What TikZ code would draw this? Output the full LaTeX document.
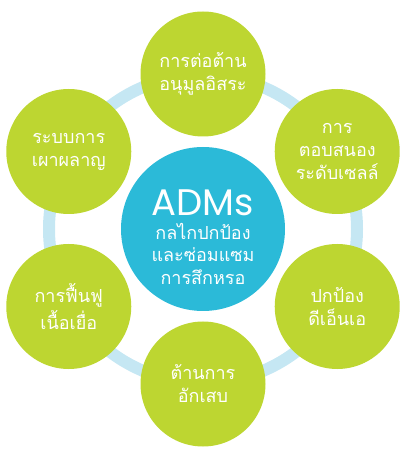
\documentclass[tikz,border=0pt]{standalone}
\usepackage{fontspec}
\newfontfamily\thaifont[Script=Thai]{Loma}
\newfontfamily\admfont{Poppins}
\definecolor{leafgreen}{HTML}{BDD631}
\definecolor{coreblue}{HTML}{2BBAD8}
\definecolor{ringblue}{HTML}{C5E7F3}
\tikzset{
  petal/.style={circle, fill=leafgreen, minimum size=125pt, inner sep=0pt,
    text=white, align=center, font=\thaifont\fontsize{18}{23}\selectfont},
  core/.style={circle, fill=coreblue, minimum size=164pt, inner sep=0pt},
  coretext/.style={text=white, align=center, font=\thaifont\fontsize{18}{22.5}\selectfont},
  ring/.style={draw=ringblue, line width=12pt}
}
\begin{document}
\begin{tikzpicture}[x=1pt,y=1pt]
\useasboundingbox (-203,-228) rectangle (206,229);
% ring behind everything
\coordinate (mid) at (0,0);
\draw[ring] (mid) circle (154);
% core
\node[core] (adm) at (mid) {};
\node[coretext] (admtext) at (0,-8) {{\admfont\fontsize{37}{40}\selectfont ADMs}\\[1pt]
  กลไกปกป้อง\\และซ่อมแซม\\การสึกหรอ};
% outer circles
\node[petal] (radical) at (90:155) {การต่อต้าน\\อนุมูลอิสระ};
\node[petal] (cell) at (30:155) {การ\\ตอบสนอง\\ระดับเซลล์};
\node[petal] (dna) at (-30:155) {ปกป้อง\\ดีเอ็นเอ};
\node[petal] (inflame) at (-90:155) {ต้านการ\\อักเสบ};
\node[petal] (tissue) at (210:155) {การฟื้นฟู\\[2pt]เนื้อเยื่อ};
\node[petal] (metab) at (150:155) {ระบบการ\\เผาผลาญ};
\end{tikzpicture}
\end{document}
